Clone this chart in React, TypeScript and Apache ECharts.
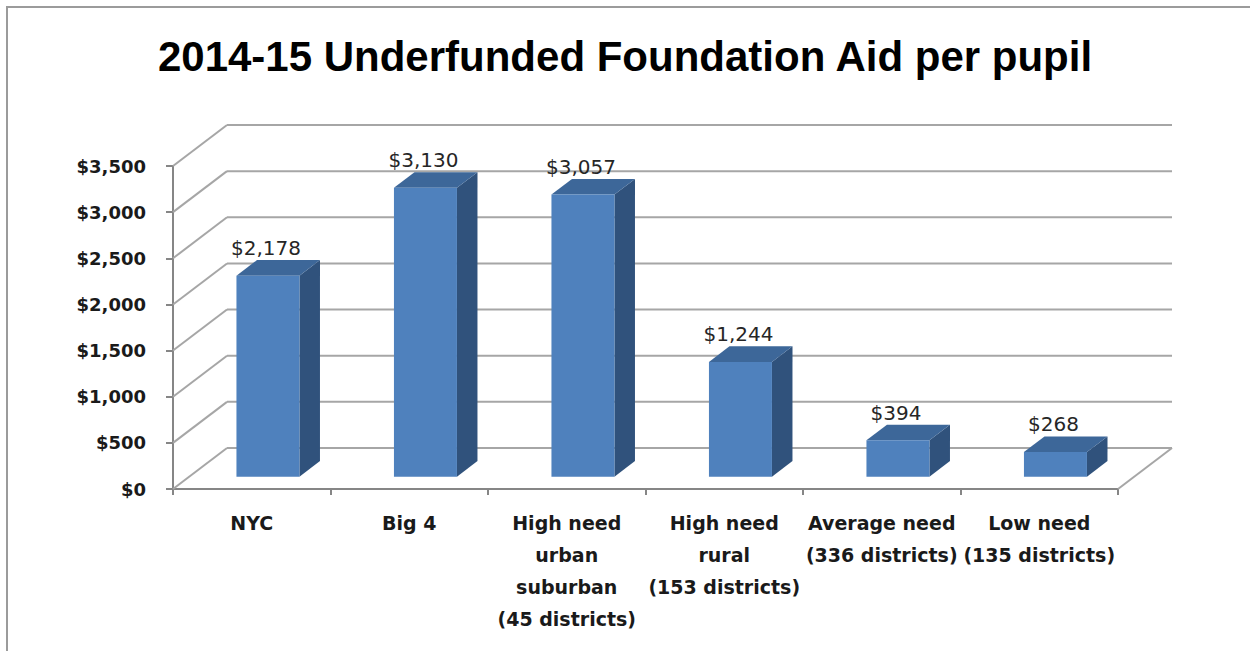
import React, { useEffect, useRef } from "react";
import * as echarts from "echarts";

const categories = [
  "NYC",
  "Big 4",
  "High need\nurban\nsuburban\n(45 districts)",
  "High need\nrural\n(153 districts)",
  "Average need\n(336 districts)",
  "Low need\n(135 districts)",
];
const values = [2178, 3130, 3057, 1244, 394, 268];
const yTicks = [0, 500, 1000, 1500, 2000, 2500, 3000, 3500];
const titleText = "2014-15 Underfunded Foundation Aid per pupil";

// 3D projection styling constants
const DX = 54;
const DY = -41;
const FRONT_F = 0.3;
const BACK_F = 0.68;
const BAR_W = 0.4;

const fmt = (v: number) => "$" + v.toLocaleString("en-US");

export default function App() {
  const ref = useRef<HTMLDivElement>(null);
  useEffect(() => {
    if (!ref.current) return;
    const chart = echarts.init(ref.current, null, { renderer: "svg" });
    const gridColor = "#a6a6a6";
    const option: any = {
      animation: false,
      backgroundColor: "#ffffff",
      title: {
        text: titleText,
        left: "center",
        top: 30,
        textStyle: {
          fontFamily: "Liberation Sans",
          fontWeight: "bold",
          fontSize: 42,
          color: "#000000",
        },
      },
      graphic: [
        {
          type: "rect",
          silent: true,
          z: -1,
          shape: { x: 7, y: 7, width: 1300, height: 700 },
          style: { fill: "none", stroke: "#9b9b9b", lineWidth: 2 },
        },
      ],
      grid: { left: 173, top: 166, width: 945, height: 323 },
      xAxis: {
        type: "category",
        data: categories,
        boundaryGap: true,
        axisLine: { show: true, lineStyle: { color: "#868686", width: 2 } },
        axisTick: { show: true, length: 6, alignWithLabel: false, lineStyle: { color: "#868686", width: 2 } },
        axisLabel: {
          interval: 0,
          margin: 18,
          fontFamily: "DejaVu Sans",
          fontWeight: "bold",
          fontSize: 19,
          lineHeight: 32,
          color: "#1a1a1a",
        },
        splitLine: { show: false },
      },
      yAxis: {
        type: "value",
        min: 0,
        max: 3500,
        interval: 500,
        axisLine: { show: true, lineStyle: { color: "#868686", width: 2 } },
        axisTick: { show: true, length: 7, lineStyle: { color: "#868686", width: 2 } },
        axisLabel: {
          margin: 27,
          formatter: (v: number) => fmt(v),
          fontFamily: "DejaVu Sans",
          fontWeight: "bold",
          fontSize: 18,
          color: "#1a1a1a",
        },
        splitLine: { show: false },
      },
      series: [
        {
          type: "custom",
          z: 1,
          clip: false,
          silent: true,
          data: yTicks.map((v) => [0, v]),
          encode: { x: 0, y: 1 },
          renderItem: (params: any, api: any) => {
            const cs = params.coordSys;
            const v = api.value(1);
            const y = api.coord([0, v])[1];
            const x0 = cs.x;
            const x1 = cs.x + cs.width;
            const ls = { stroke: gridColor, lineWidth: 2 };
            const children: any[] = [
              { type: "line", shape: { x1: x0, y1: y, x2: x0 + DX, y2: y + DY }, style: ls },
              { type: "line", shape: { x1: x0 + DX, y1: y + DY, x2: x1 + DX, y2: y + DY }, style: ls },
            ];
            if (v === 0) {
              children.push({ type: "line", shape: { x1: x1, y1: y, x2: x1 + DX, y2: y + DY }, style: ls });
            }
            return { type: "group", children };
          },
        },
        {
          type: "custom",
          z: 3,
          clip: false,
          data: values.map((v, i) => [i, v]),
          encode: { x: 0, y: 1 },
          renderItem: (params: any, api: any) => {
            const idx = api.value(0);
            const v = api.value(1);
            const base = api.coord([idx, 0]);
            const top = api.coord([idx, v]);
            const bw = api.size([1, 0])[0] * BAR_W;
            const ox = DX * FRONT_F;
            const oy = DY * FRONT_F;
            const dx = DX * (BACK_F - FRONT_F);
            const dy = DY * (BACK_F - FRONT_F);
            const xl = base[0] - bw / 2 + ox;
            const xr = base[0] + bw / 2 + ox;
            const yb = base[1] + oy;
            const yt = top[1] + oy;
            return {
              type: "group",
              children: [
                {
                  type: "polygon",
                  shape: { points: [[xr, yt], [xr + dx, yt + dy], [xr + dx, yb + dy], [xr, yb]] },
                  style: { fill: "#30527c" },
                },
                {
                  type: "polygon",
                  shape: { points: [[xl, yt], [xr, yt], [xr + dx, yt + dy], [xl + dx, yt + dy]] },
                  style: { fill: "#3d6799" },
                },
                {
                  type: "rect",
                  shape: { x: xl, y: yt, width: xr - xl, height: yb - yt },
                  style: { fill: "#4f81bd" },
                },
                {
                  type: "text",
                  style: {
                    text: fmt(v),
                    x: (xl + xr) / 2 - 2,
                    y: yt + dy - 12,
                    align: "center",
                    verticalAlign: "middle",
                    fontFamily: "DejaVu Sans",
                    fontSize: 20,
                    fill: "#262626",
                  },
                },
              ],
            };
          },
        },
      ],
    };
    chart.setOption(option);
    return () => chart.dispose();
  }, []);
  return (
    <div
      ref={ref}
      style={{ position: "fixed", left: 0, top: 0, width: 1250, height: 651 }}
    />
  );
}
